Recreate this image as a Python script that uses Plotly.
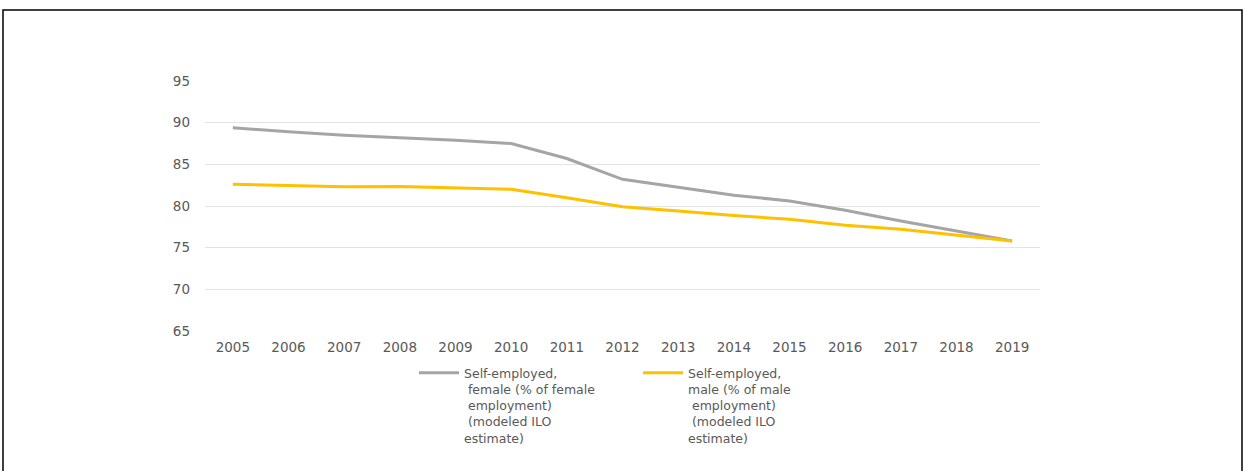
import plotly.graph_objects as go

years = ["2005", "2006", "2007", "2008", "2009", "2010", "2011", "2012",
         "2013", "2014", "2015", "2016", "2017", "2018", "2019"]
female = [89.4, 88.9, 88.5, 88.2, 87.9, 87.5, 85.7, 83.2, 82.25, 81.3, 80.6, 79.5, 78.2, 77.0, 75.8]
male = [82.6, 82.45, 82.3, 82.35, 82.2, 82.0, 81.0, 79.9, 79.4, 78.85, 78.4, 77.7, 77.2, 76.5, 75.8]
y_ticks = [65, 70, 75, 80, 85, 90, 95]

female_name = "Self-employed,<br>\u00a0female (% of female<br>\u00a0employment)<br>\u00a0(modeled ILO<br>estimate)"
male_name = "Self-employed,<br>male (% of male<br>\u00a0employment)<br>\u00a0(modeled ILO<br>estimate)"

W, H = 1244, 471
L, R, T, B = 205, 204, 81, 140
pw, ph = W - L - R, H - T - B

def px_x(x):
    return (x - L) / pw

def px_y(y):
    return (H - B - y) / ph

fig = go.Figure()
fig.add_trace(go.Scatter(x=years, y=female, mode="lines", name=female_name,
                         line=dict(color="#A5A5A5", width=3), legend="legend"))
fig.add_trace(go.Scatter(x=years, y=male, mode="lines", name=male_name,
                         line=dict(color="#FFC000", width=3), legend="legend2"))

tick_font = dict(family="DejaVu Sans, sans-serif", size=13.5, color="#595959")
leg_font = dict(family="DejaVu Sans, sans-serif", size=12.5, color="#595959")
leg_common = dict(orientation="v", yanchor="top", xanchor="left", valign="top",
                  bgcolor="rgba(0,0,0,0)", font=leg_font, itemwidth=40,
                  tracegroupgap=0)

fig.update_layout(
    width=W, height=H,
    margin=dict(l=L, r=R, t=T, b=B, autoexpand=False),
    plot_bgcolor="white", paper_bgcolor="white",
    font=tick_font,
    showlegend=True,
    legend=dict(x=px_x(414), y=px_y(358), **leg_common),
    legend2=dict(x=px_x(638), y=px_y(358), **leg_common),
    xaxis=dict(type="category", range=[-0.5, 14.5], showgrid=False,
               showline=False, zeroline=False, ticks="",
               ticklabelstandoff=6, tickfont=tick_font),
    yaxis=dict(range=[65, 95], tickvals=y_ticks, showgrid=True,
               gridcolor="#E4E4E4", gridwidth=1, zeroline=False,
               showline=False, ticks="", ticklabelstandoff=14, tickfont=tick_font),
    shapes=[dict(type="rect", xref="paper", yref="paper",
                 x0=px_x(3), x1=px_x(1242), y0=px_y(480), y1=px_y(10),
                 line=dict(color="black", width=1.5), fillcolor="rgba(0,0,0,0)",
                 layer="above")],
)

fig.write_html("out.html")
